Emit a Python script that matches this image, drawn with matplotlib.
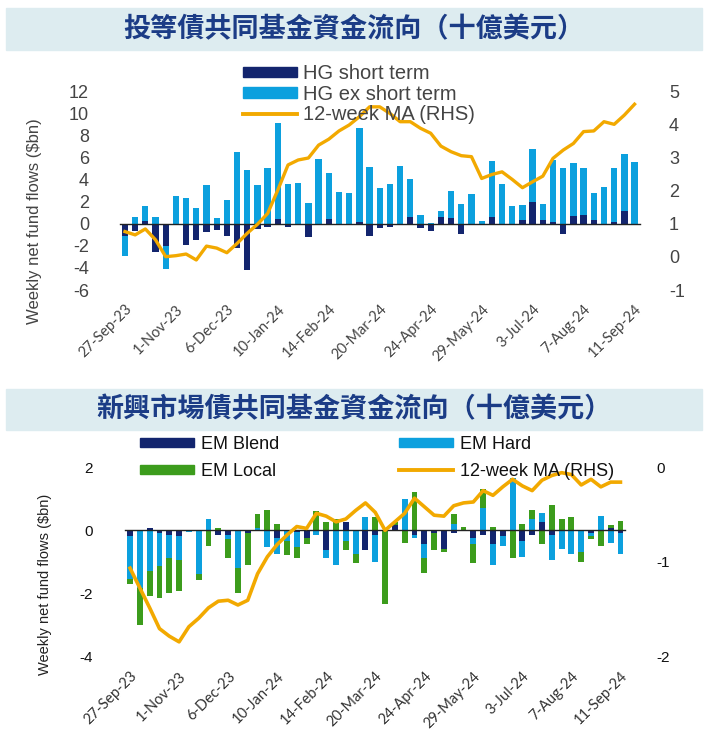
import matplotlib
matplotlib.use("Agg")
import matplotlib.pyplot as plt
from matplotlib.patches import Rectangle, Patch
from matplotlib.lines import Line2D
import numpy as np

W, H = 708, 740

# ---- data ----
week_labels = ["27-Sep-23", "1-Nov-23", "6-Dec-23", "10-Jan-24", "14-Feb-24",
               "20-Mar-24", "24-Apr-24", "29-May-24", "3-Jul-24", "7-Aug-24",
               "11-Sep-24"]

hg_short = [-1.1, -0.67, 0.3, -2.55, -1.97, 0.0, -1.94, -1.48, -0.73, -0.52,
            -1.1, -2.2, -4.2, -0.5, -0.3, 0.45, -0.3, 0.0, -1.2, 0.0,
            0.45, 0.0, 0.0, 0.2, -1.1, -0.4, -0.3, 0.0, 0.6, -0.4,
            -0.6, 0.6, 0.5, -0.9, 0.0, 0.0, 0.6, 0.0, 0.0, 0.4,
            2.0, 0.4, 0.2, -0.9, 0.7, 0.8, 0.4, 0.0, 0.2, 1.2,
            0.0]
hg_ex = [-1.8, 0.64, 1.3, 0.64, -2.1, 2.58, 2.36, 1.45, 3.5, 0.55,
         2.2, 6.5, 4.9, 3.5, 5.1, 8.7, 3.6, 3.7, 1.9, 5.9,
         4.2, 2.9, 2.8, 8.5, 5.2, 3.3, 3.6, 5.3, 3.5, 0.8,
         0.1, 0.6, 2.5, 1.8, 2.7, 0.3, 5.1, 3.6, 1.6, 1.3,
         4.8, 1.4, 5.6, 5.1, 4.8, 4.3, 2.4, 3.4, 4.9, 5.2,
         5.6]
hg_ma = [0.77, 0.67, 0.85, 0.52, 0.01, 0.04, 0.09, -0.09, 0.33, 0.27,
         0.13, 0.41, 0.72, 0.99, 1.32, 2.03, 2.79, 2.94, 3.0, 3.39,
         3.57, 3.82, 4.0, 4.25, 4.55, 4.55, 4.35, 4.1, 4.1, 3.9,
         3.75, 3.36, 3.19, 3.07, 3.04, 2.38, 2.5, 2.58, 2.35, 2.1,
         2.28, 2.45, 2.99, 3.24, 3.44, 3.8, 3.82, 4.1, 4.02, 4.3,
         4.63]

em_blend = [-0.2, 0.0, 0.05, -0.1, -0.15, -0.2, 0.0, 0.0, 0.0, -0.15,
            -0.15, 0.0, -0.1, 0.0, 0.0, -0.25, 0.0, -0.05, -0.25, 0.0,
            -0.65, 0.0, 0.25, 0.0, -0.65, -0.15, 0.0, 0.15, 0.0, -0.15,
            -0.45, -0.1, -0.6, -0.1, 0.0, -0.25, -0.15, -0.45, -0.2, 0.0,
            -0.35, -0.15, 0.25, -0.15, 0.0, 0.0, 0.0, -0.1, 0.0, 0.05,
            -0.1]
em_hard = [-1.35, -1.85, -1.3, -1.05, -0.75, -0.75, -0.07, -1.4, 0.35, 0.0,
           -0.15, -1.2, 0.0, 0.05, -0.55, -0.5, -0.35, -0.5, 0.0, -0.15,
           -0.25, -1.1, -0.35, -0.75, 0.4, -0.85, 0.0, 0.0, 1.0, -0.1,
           -0.45, 0.0, 0.0, 0.2, 0.0, -0.2, 0.7, -0.65, -0.3, 1.65,
           -0.5, 0.35, 0.3, -0.8, -0.6, -0.75, -0.7, -0.1, 0.45, -0.4,
           -0.65]
em_local = [-0.15, -1.15, -0.8, -1.0, -1.1, -1.0, 0.0, -0.2, -0.5, 0.07,
            -0.6, -0.8, -1.0, 0.45, 0.65, 0.2, -0.45, -0.35, -0.2, 0.6,
            0.25, 0.35, -0.3, -0.3, 0.0, 0.4, -2.35, 0.1, -0.4, 1.2,
            -0.45, -0.55, -0.1, 0.3, 0.1, -0.6, 0.6, 0.1, 0.0, -0.9,
            0.2, 0.3, -0.45, 0.8, 0.35, 0.4, -0.3, -0.07, -0.5, 0.1,
            0.3]
em_ma = [-1.07, -1.28, -1.49, -1.71, -1.79, -1.85, -1.69, -1.6, -1.49, -1.42,
         -1.41, -1.46, -1.41, -1.13, -0.95, -0.82, -0.72, -0.63, -0.65, -0.49,
         -0.52, -0.58, -0.55, -0.46, -0.38, -0.48, -0.67, -0.58, -0.49, -0.33,
         -0.42, -0.51, -0.52, -0.41, -0.38, -0.37, -0.25, -0.3, -0.21, -0.13,
         -0.2, -0.25, -0.14, -0.09, -0.06, -0.08, -0.19, -0.13, -0.21, -0.16,
         -0.16]

NAVY = "#13256e"
LBLUE = "#0ca0de"
GREEN = "#3c9c1c"
ORANGE = "#f2a900"
BANNER = "#ddecf0"
TITLE_C = "#1b3c86"
FONT = ["Liberation Sans", "DejaVu Sans"]
CJK = ["Noto Sans CJK TC", "DejaVu Sans"]

plt.rcParams["font.family"] = FONT
plt.rcParams["axes.unicode_minus"] = False


def box(x0, y0, x1, y1):
    return [x0 / W, 1 - y1 / H, (x1 - x0) / W, (y1 - y0) / H]


def banner(fig, y0, y1, text):
    fig.patches.append(Rectangle((6 / W, 1 - y1 / H), 696 / W, (y1 - y0) / H,
                                 transform=fig.transFigure, color=BANNER,
                                 zorder=0))
    fig.text(354 / W, 1 - (y0 + y1) / 2 / H, text, family=CJK,
             fontsize=19.5, fontweight="bold", color=TITLE_C,
             ha="center", va="center")


def stack(ax, x, series, colors, width):
    pos = np.zeros(len(x))
    neg = np.zeros(len(x))
    for vals, col in zip(series, colors):
        vals = np.asarray(vals)
        bottom = np.where(vals >= 0, pos, neg)
        ax.bar(x, vals, width, bottom=bottom, color=col, linewidth=0,
               zorder=2)
        pos += np.where(vals >= 0, vals, 0)
        neg += np.where(vals < 0, vals, 0)


def style(ax, axr):
    for a in (ax, axr):
        for s in a.spines.values():
            s.set_visible(False)
        a.tick_params(length=0)


fig = plt.figure(figsize=(W / 100, H / 100), dpi=100)
n = len(hg_ma)
x = np.arange(n)
tick_idx = np.arange(0, n, 5)

# ---- top panel ----
banner(fig, 8, 50, "投等債共同基金資金流向（十億美元）")

ax1 = fig.add_axes(box(116.8, 85, 642.7, 295))
ax1.set_xlim(-0.8, 50.8)
ax1.set_ylim(-6.4545, 12.636)
stack(ax1, x, [hg_short, hg_ex], [NAVY, LBLUE], 0.62)
ax1.plot([-0.5, 50.5], [0, 0], color="#222222", lw=1.0, zorder=3)
ax1.set_yticks(range(-6, 13, 2))
ax1.set_xticks(tick_idx)
ax1.set_xticklabels(week_labels, rotation=45, ha="right",
                    rotation_mode="anchor", fontsize=10.5, color="#444444",
                    family=["Lato", "DejaVu Sans"])
ax1.tick_params(axis="y", labelsize=13, labelcolor="#444444", pad=20)
ax1.tick_params(axis="x", pad=5)

ax1r = ax1.twinx()
ax1r.set_ylim(-1.1515, 5.212)
ax1r.plot(x, hg_ma, color=ORANGE, lw=2.4, zorder=4)
ax1r.set_yticks(range(-1, 6))
ax1r.tick_params(axis="y", labelsize=13, labelcolor="#444444", pad=19)
style(ax1, ax1r)

fig.text(35 / W, 1 - 221 / H, "Weekly net fund flows ($bn)", rotation=90,
         ha="center", va="center", fontsize=12, color="#444444")

h1 = [Patch(color=NAVY), Patch(color=LBLUE),
      Line2D([], [], color=ORANGE, lw=2.8)]
fig.legend(h1, ["HG short term", "HG ex short term", "12-week MA (RHS)"],
           loc="upper left", bbox_to_anchor=(243 / W, 1 - 64 / H),
           frameon=False, fontsize=14.5, labelcolor="#444444",
           handlelength=2.7, handleheight=0.42, handletextpad=0.3,
           labelspacing=0.08, borderpad=0, borderaxespad=0)

# ---- bottom panel ----
banner(fig, 389, 430, "新興市場債共同基金資金流向（十億美元）")

ax2 = fig.add_axes(box(122.2, 455, 628.3, 662))
ax2.set_xlim(-0.8, 50.8)
ax2.set_ylim(-4.19, 2.381)
stack(ax2, x, [em_blend, em_hard, em_local], [NAVY, LBLUE, GREEN], 0.6)
ax2.plot([-0.5, 50.5], [0, 0], color="#222222", lw=1.0, zorder=3)
ax2.set_yticks([-4, -2, 0, 2])
ax2.set_xticks(tick_idx)
ax2.set_xticklabels(week_labels, rotation=45, ha="right",
                    rotation_mode="anchor", fontsize=10.5, color="#333333",
                    family=["Lato", "DejaVu Sans"])
ax2.tick_params(axis="y", labelsize=11, labelcolor="#111111", pad=21)
ax2.tick_params(axis="x", pad=5)

ax2r = ax2.twinx()
ax2r.set_ylim((-4.19 - 2) / 3, (2.381 - 2) / 3)
ax2r.plot(x, em_ma, color=ORANGE, lw=2.6, zorder=4)
ax2r.set_yticks([-2, -1, 0])
ax2r.tick_params(axis="y", labelsize=11, labelcolor="#111111", pad=20)
style(ax2, ax2r)

fig.text(45 / W, 1 - 584 / H, "Weekly net fund flows ($bn)", rotation=90,
         ha="center", va="center", fontsize=10.5, color="#222222")

# ncol=2 fills column-wise, so order as Blend, Local | Hard, MA
h2 = [Patch(color=NAVY), Patch(color=GREEN), Patch(color=LBLUE),
      Line2D([], [], color=ORANGE, lw=2.8)]
fig.legend(h2, ["EM Blend", "EM Local", "EM Hard", "12-week MA (RHS)"],
           loc="upper left", bbox_to_anchor=(140 / W, 1 - 436 / H), ncol=2,
           frameon=False, fontsize=13, labelcolor="#111111",
           handlelength=3.0, handleheight=0.45, handletextpad=0.4,
           labelspacing=0.55, columnspacing=6.6, borderpad=0,
           borderaxespad=0)

fig.savefig("out.png", dpi=100)
